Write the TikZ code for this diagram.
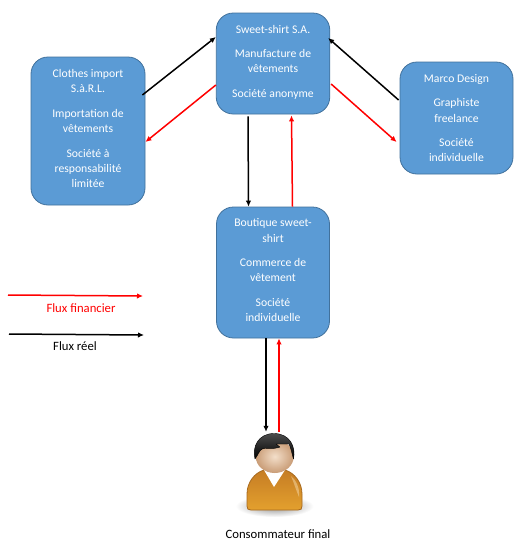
\documentclass[tikz,border=0pt]{standalone}
\usepackage{fontspec}
\setmainfont{Carlito}
\usetikzlibrary{arrows.meta}
\definecolor{fluxBlue}{HTML}{5B9BD5}
\definecolor{fluxEdge}{HTML}{41719C}
\definecolor{fluxRed}{HTML}{FF0000}
\definecolor{fluxOrange}{HTML}{E3A02E}
\definecolor{fluxOrangeTwo}{HTML}{C67D24}
\definecolor{fluxSkin}{HTML}{EBC9A6}
\definecolor{fluxSkinTwo}{HTML}{C99C76}

\begin{document}
\begin{tikzpicture}[x=1pt,y=-1pt,>={Latex[length=6pt,width=5.5pt]},line join=round]
\useasboundingbox[fill=white] (0,0) rectangle (523,550);
\tikzset{entity/.style={draw=fluxEdge,fill=fluxBlue,line width=0.8pt,rounded corners=17pt,inner sep=0pt,align=center,text=white,text depth=4.5pt,font=\fontsize{11.7}{15.2}\selectfont},blackflow/.style={draw=black,line width=1.5pt,->},redflow/.style={draw=fluxRed,line width=1.5pt,->},caption/.style={font=\fontsize{12.7}{15}\selectfont}}
\node[entity,minimum width=114pt,minimum height=148pt] (clothes) at (88,131) {Clothes import\\S.à.R.L.\\[9.5pt]Importation de\\vêtements\\[9.5pt]Société à\\responsabilité\\limitée};
\node[entity,minimum width=113.5pt,minimum height=101pt] (sweet) at (273,63.5) {Sweet-shirt S.A.\\[9.5pt]Manufacture de\\vêtements\\[9.5pt]Société anonyme};
\node[entity,text depth=-3pt,minimum width=113pt,minimum height=112pt] (marco) at (456.5,118) {Marco Design\\[9.5pt]Graphiste\\freelance\\[9.5pt]Société\\individuelle};
\node[entity,minimum width=113pt,minimum height=131pt] (boutique) at (273,272.5) {Boutique sweet-\\shirt\\[9.5pt]Commerce de\\vêtement\\[9.5pt]Société\\individuelle};
\node[minimum width=56pt,minimum height=78pt,inner sep=0pt] (client) at (274.5,471) {};
\shade[inner color=black!45,outer color=white] (274.5,506) ellipse (39 and 11);
\shade[top color=fluxOrangeTwo,bottom color=fluxOrange,draw=fluxOrangeTwo!85!black,line width=0.8pt] (264,470) .. controls (254,473) and (247,483) .. (247,494) -- (247,506) .. controls (247,509) and (248,510) .. (251,510) -- (298,510) .. controls (301,510) and (302,509) .. (302,506) -- (302,494) .. controls (302,483) and (295,473) .. (285,470) -- cycle;
\fill[white!55!fluxOrange,opacity=0.55] (291,476) .. controls (296,480) and (300,488) .. (299,497) .. controls (296,490) and (294,483) .. cycle;
\fill[white] (264,470) -- (274,487) -- (285,470) -- cycle;
\shade[inner color=fluxSkin!60!white,outer color=fluxSkinTwo] (274.7,456.5) ellipse (19 and 16.5);
\shade[top color=black!70,bottom color=black,draw=black] (255,459) .. controls (252,447) and (258,433.5) .. (274,433.5) .. controls (290,433.5) and (296,447) .. (293.5,459) .. controls (292,454) and (291,448) .. (289,444) -- (276,444) -- (280,447) .. controls (272,450) and (265,447) .. (262,449) .. controls (259,451) and (258,455) .. (255,459) -- cycle;
\coordinate (legendRedA) at (8,295);
\coordinate (legendRedB) at (143,296);
\coordinate (legendBlackA) at (9,334);
\coordinate (legendBlackB) at (144,335);
\draw[redflow] (legendRedA) -- (legendRedB);
\draw[blackflow] (legendBlackA) -- (legendBlackB);
\node[caption,text=fluxRed] (legendRed) at (81,308) {Flux financier};
\node[caption] (legendBlack) at (75,346) {Flux réel};
\node[caption] (clientText) at (278,534) {Consommateur final};
\draw[blackflow] ([xshift=-3pt,yshift=36pt]clothes.east) -- ([yshift=26.5pt]sweet.west);
\draw[redflow] ([yshift=-21.5pt]sweet.west) -- ([yshift=-11pt]clothes.east);
\draw[blackflow] ([xshift=-1pt,yshift=18pt]marco.west) -- ([xshift=-2pt,yshift=25.5pt]sweet.east);
\draw[redflow] ([xshift=1pt,yshift=-20.5pt]sweet.east) -- ([xshift=-3pt,yshift=-24pt]marco.west);
\draw[blackflow] ([xshift=-25pt,yshift=-2pt]sweet.south) -- ([xshift=-24.5pt]boutique.north);
\draw[redflow] ([xshift=19.5pt]boutique.north) -- ([xshift=18.5pt,yshift=-1pt]sweet.south);
\draw[blackflow] ([xshift=-7pt]boutique.south) -- ([xshift=-8.5pt]client.north);
\draw[redflow] ([xshift=4.5pt]client.north) -- ([xshift=6pt]boutique.south);
\end{tikzpicture}
\end{document}
